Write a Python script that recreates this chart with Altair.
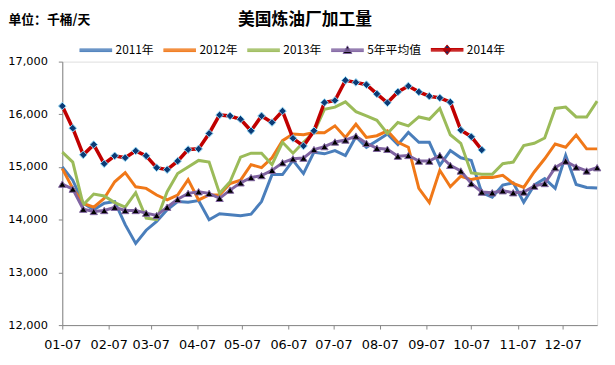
import altair as alt
import pandas as pd

series_names = ["2011年", "2012年", "2013年", "5年平均值", "2014年"]
colors = ["#4A7EBB", "#F07818", "#9BBB59", "#8064A2", "#C00000"]

v2011 = [15000, 14750, 14312, 14187, 14312, 14344, 13906, 13550, 13800, 13969, 14187, 14344, 14331,
         14362, 14000, 14112, 14094, 14075, 14106, 14344, 14856, 14856, 15125, 14875, 15281, 15250,
         15312, 15219, 15575, 15375, 15500, 15625, 15425, 15656, 15469, 15469, 15031, 15312, 15175,
         15125, 14512, 14425, 14656, 14700, 14331, 14656, 14781, 14594, 15219, 14669, 14612, 14600]
v2012 = [14969, 14594, 14312, 14237, 14406, 14719, 14894, 14625, 14594, 14469, 14375, 14469, 14762,
         14375, 14469, 14469, 14687, 14750, 15044, 14987, 15175, 15500, 15625, 15612, 15656, 15650,
         15781, 15562, 15812, 15562, 15594, 15687, 15469, 15375, 14594, 14325, 14937, 14625, 14825,
         14762, 14800, 14800, 14844, 14687, 14612, 14906, 15156, 15437, 15375, 15606, 15344, 15344]
v2013 = [15281, 15094, 14281, 14487, 14450, 14325, 14237, 14512, 14031, 14000, 14531, 14875, 15000,
         15125, 15094, 14500, 14719, 15187, 15262, 15262, 15044, 15469, 15262, 15469, 15656, 16094,
         16137, 16237, 16050, 15969, 15887, 15637, 15844, 15781, 15950, 15906, 16112, 15612, 15450,
         14887, 14862, 14862, 15062, 15094, 15406, 15450, 15550, 16112, 16137, 15950, 15950, 16250]
v5avg = [14675, 14581, 14200, 14156, 14175, 14237, 14175, 14175, 14125, 14081, 14237, 14387, 14500,
         14531, 14500, 14406, 14562, 14700, 14800, 14837, 14937, 15081, 15156, 15169, 15331, 15387,
         15475, 15512, 15587, 15450, 15356, 15337, 15206, 15219, 15112, 15112, 15219, 15031, 14925,
         14687, 14525, 14512, 14550, 14512, 14525, 14637, 14687, 14987, 15112, 15000, 14925, 14987]
v2014 = [16156, 15737, 15231, 15425, 15062, 15212, 15175, 15306, 15212, 14987, 14950, 15112, 15331,
         15344, 15637, 15987, 15969, 15906, 15687, 15969, 15844, 16062, 15544, 15400, 15687, 16225,
         16262, 16644, 16606, 16562, 16387, 16219, 16425, 16537, 16425, 16344, 16312, 16231, 15700,
         15575, 15325]

tick_months = list(range(1, 13))
y_ticks = [12000, 13000, 14000, 15000, 16000, 17000]

week_dates = pd.date_range("2014-01-07", periods=52, freq="7D")
series_values = dict(zip(series_names, [v2011, v2012, v2013, v5avg, v2014]))
rows = []
for name in series_names:
    for d, v in zip(week_dates, series_values[name]):
        rows.append({"series": name, "date": d.strftime("%Y-%m-%d"), "value": v})
df = pd.DataFrame(rows)

xscale = alt.Scale(domain=[alt.DateTime(year=2014, month=1, date=7),
                           alt.DateTime(year=2014, month=12, date=30)])
yscale = alt.Scale(domain=[12000, 17000], nice=False, zero=False)

xaxis = alt.Axis(values=[alt.DateTime(year=2014, month=m, date=7) for m in tick_months],
                 format="%m-%d", title=None, grid=False, domainColor="#868686",
                 tickColor="#868686", tickSize=4, labelFont="DejaVu Sans", labelFontSize=13,
                 labelColor="black", labelPadding=10, labelFlush=False, labelOverlap=False)
yaxis = alt.Axis(values=y_ticks, format=",.0f", title="单位：千桶/天", titleAngle=0,
                 titleAlign="left", titleBaseline="alphabetic", titleX=-55, titleY=-39,
                 titleFont="Noto Sans CJK SC", titleFontSize=13, titleFontWeight="bold",
                 titleColor="black", grid=False, domainColor="#868686", tickColor="#868686",
                 tickSize=4, labelFont="DejaVu Sans", labelFontSize=11.5, labelColor="black",
                 labelPadding=11)

X = alt.X("date:T", scale=xscale, axis=xaxis)
Y = alt.Y("value:Q", scale=yscale, axis=yaxis)

line_part = "M-1,-0.08L1,-0.08M-1,-0.027L1,-0.027M-1,0.027L1,0.027M-1,0.08L1,0.08"
legend_paths = [line_part, line_part, line_part,
                line_part + "M0,-0.27L0.27,0.2L-0.27,0.2Z",
                line_part + "M0,-0.3L0.24,0L0,0.3L-0.24,0Z"]
legend_fills = ["transparent", "transparent", "transparent", "black", "#0B2F66"]

legend_cfg = alt.Legend(title=None, orient="none", legendX=17, legendY=-29,
                        direction="horizontal", columns=5, symbolSize=1089,
                        symbolStrokeWidth=1, symbolFillColor="transparent",
                        symbolOpacity=1, labelFont="Noto Sans CJK SC", labelFontSize=12,
                        labelColor="black", labelOffset=3, columnPadding=7, padding=0)

legend_layer = alt.Chart(df).transform_filter("false").mark_point().encode(
    x=X, y=Y,
    color=alt.Color("series:N", scale=alt.Scale(domain=series_names, range=colors), legend=legend_cfg),
    fill=alt.Fill("series:N", scale=alt.Scale(domain=series_names, range=legend_fills), legend=legend_cfg),
    shape=alt.Shape("series:N", scale=alt.Scale(domain=series_names, range=legend_paths), legend=legend_cfg),
)

layers = [legend_layer]
for name, col in zip(series_names, colors):
    sw = 3.6 if name == "2014年" else 3
    layers.append(
        alt.Chart(df).transform_filter(alt.datum.series == name)
        .mark_line(color=col, strokeWidth=sw).encode(x=X, y=Y)
    )
    if name == "5年平均值":
        layers.append(
            alt.Chart(df).transform_filter(alt.datum.series == name)
            .mark_point(shape="triangle-up", filled=True, fill="black", stroke="#8064A2",
                        strokeWidth=1, size=55, opacity=1).encode(x=X, y=Y)
        )
    if name == "2014年":
        layers.append(
            alt.Chart(df).transform_filter(alt.datum.series == name)
            .mark_point(shape="diamond", filled=True, fill="#0B3A75", stroke="#8FD8F8",
                        strokeWidth=1, size=60, opacity=1).encode(x=X, y=Y)
        )

chart = alt.layer(*layers).properties(
    width=542, height=267,
    padding={"left": 55, "top": 52, "right": 10, "bottom": 30},
    autosize="none",
    title=alt.TitleParams("美国炼油厂加工量", anchor="start", frame="group", dx=178,
                          offset=-29, baseline="alphabetic", fontSize=17,
                          font="Noto Sans CJK SC", fontWeight="bold", color="black"),
).configure_view(stroke=None).configure(background="white")

chart.save("out.html", embed_options={"renderer": "svg", "actions": False})
